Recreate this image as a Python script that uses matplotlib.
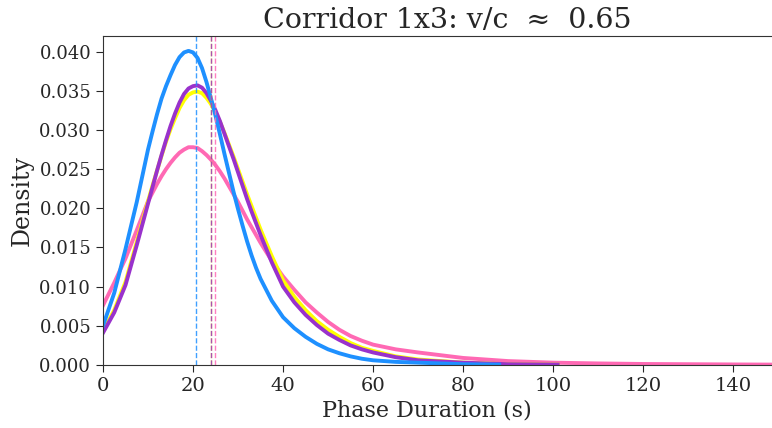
import numpy as np
import matplotlib
matplotlib.use('Agg')
import matplotlib.pyplot as plt

# densities (phase duration in s)
x_core = [0, 2.5, 5, 7.5, 10, 11, 12, 13, 14, 15, 16, 17, 18, 19, 20, 21, 22, 23, 24, 25,
          26, 27, 28, 29, 30, 31, 32, 33, 34, 35, 37.5, 40, 42.5, 45, 47.5, 50, 52.5, 55,
          57.5, 60, 65, 70, 80]

x_blue = x_core + [88]
y_blue = [0.0050, 0.0092, 0.0148, 0.0208, 0.0275, 0.0298, 0.0320, 0.0340, 0.0356, 0.0370,
          0.0383, 0.0393, 0.0399, 0.0401, 0.0399, 0.0392, 0.0379, 0.0361, 0.0340, 0.0318,
          0.0294, 0.0269, 0.0245, 0.0221, 0.0199, 0.0178, 0.0158, 0.0140, 0.0124, 0.0110,
          0.0082, 0.0061, 0.0047, 0.0036, 0.0027, 0.0020, 0.0015, 0.0011,
          0.0008, 0.0006, 0.0004, 0.0003, 0.0001, 0.00005]

x_purple = x_core + [90, 101]
y_purple = [0.0041, 0.0067, 0.0102, 0.0153, 0.0206, 0.0227, 0.0248, 0.0268, 0.0287, 0.0305,
            0.0321, 0.0335, 0.0346, 0.0353, 0.0356, 0.0357, 0.0354, 0.0347, 0.0337, 0.0325,
            0.0311, 0.0295, 0.0279, 0.0263, 0.0246, 0.0229, 0.0212, 0.0196, 0.0181, 0.0166,
            0.0131, 0.0100, 0.0080, 0.0064, 0.0051, 0.0040, 0.0032, 0.0025,
            0.0020, 0.0016, 0.0010, 0.0006, 0.0003, 0.0001, 0.00005]

x_yellow = x_core + [90, 101]
y_yellow = [0.0043, 0.0070, 0.0106, 0.0157, 0.0209, 0.0229, 0.0248, 0.0267, 0.0285, 0.0301,
            0.0315, 0.0328, 0.0338, 0.0345, 0.0348, 0.0349, 0.0347, 0.0341, 0.0333, 0.0322,
            0.0310, 0.0296, 0.0281, 0.0266, 0.0250, 0.0234, 0.0218, 0.0203, 0.0188, 0.0173,
            0.0139, 0.0108, 0.0087, 0.0070, 0.0056, 0.0045, 0.0036, 0.0028,
            0.0022, 0.0018, 0.0011, 0.0007, 0.0003, 0.0001, 0.00005]

x_pink = x_core + [90, 100, 110, 120, 130, 140, 148.5]
y_pink = [0.0076, 0.0105, 0.0136, 0.0172, 0.0209, 0.0220, 0.0231, 0.0241, 0.0250, 0.0258,
          0.0265, 0.0271, 0.0275, 0.0278, 0.0278, 0.0277, 0.0273, 0.0268, 0.0262, 0.0255,
          0.0247, 0.0238, 0.0228, 0.0218, 0.0208, 0.0197, 0.0186, 0.0176, 0.0166, 0.0156,
          0.0133, 0.0113, 0.0096, 0.0080, 0.0067, 0.0055, 0.0045, 0.0037,
          0.0031, 0.0026, 0.0020, 0.0016, 0.0009, 0.0005, 0.0003, 0.0002, 0.00013,
          0.0001, 0.00007, 0.00005]

means = [24.0, 20.7, 24.0, 24.9]
colors = ['yellow', '#1E90FF', '#9932CC', '#FF69B4']

plt.rcParams['font.family'] = 'DejaVu Serif'

fig = plt.figure(figsize=(7.72, 4.28), dpi=100)
ax = fig.add_axes([0.1334, 0.1472, 0.866, 0.7687])

ax.plot(x_pink, y_pink, color=colors[3], lw=2.8)
ax.plot(x_yellow, y_yellow, color=colors[0], lw=2.8)
ax.plot(x_purple, y_purple, color=colors[2], lw=2.8)
ax.plot(x_blue, y_blue, color=colors[1], lw=2.8)

for m, c in zip(means, colors):
    ax.axvline(m, color=c, ls='--', lw=1.0, alpha=0.85)

ax.set_xlim(0, 148.5)
ax.set_ylim(0, 0.042)
ax.set_xticks([0, 20, 40, 60, 80, 100, 120, 140])
ax.set_yticks(np.arange(0, 0.0401, 0.005))
ax.yaxis.set_major_formatter(matplotlib.ticker.FormatStrFormatter('%.3f'))

ax.tick_params(axis='x', labelsize=14, colors='#262626', length=5)
ax.tick_params(axis='y', labelsize=13, colors='#262626', length=5)
for s in ['left', 'bottom', 'top']:
    ax.spines[s].set_color('#333333')
ax.spines['right'].set_visible(False)

ax.set_xlabel('Phase Duration (s)', fontsize=16, color='#262626')
ax.xaxis.set_label_coords(0.485, -0.105)
ax.set_ylabel('Density', fontsize=17, color='#262626')
ax.set_title('Corridor 1x3: v/c  \u2248  0.65', fontsize=20.5, color='#262626', x=0.515)

fig.savefig('out.png', dpi=100)
